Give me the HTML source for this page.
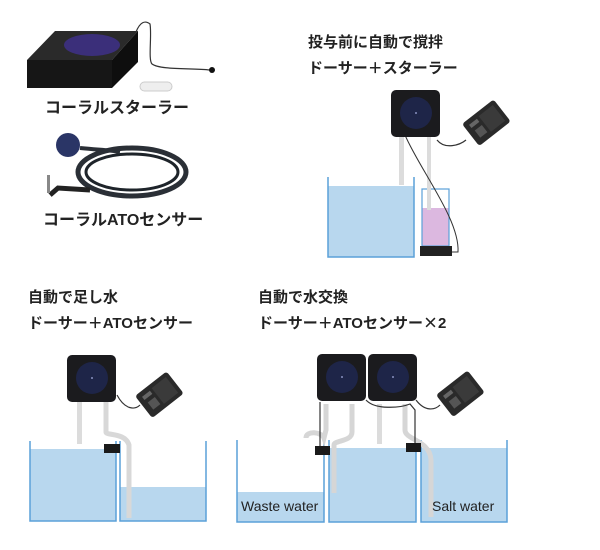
<!DOCTYPE html>
<html><head><meta charset="utf-8"><style>
html,body{margin:0;padding:0;background:#fff;width:600px;height:550px;overflow:hidden}
svg{display:block}
text{font-family:"Liberation Sans","Noto Sans CJK JP",sans-serif;font-weight:bold;fill:#222}
</style></head><body>
<svg width="600" height="550" viewBox="0 0 600 550">
<defs>
<g id="pump">
<rect x="0" y="0" width="49" height="47" rx="5" fill="#1b1b1e"/>
<circle cx="25" cy="23" r="16" fill="#1e2548"/>
<circle cx="25" cy="23" r="1" fill="#8890c0"/>
</g>
<g id="ctrl">
<rect x="0" y="0" width="40" height="28" rx="3" fill="#2a2a2a"/>
<rect x="5" y="5" width="10" height="4" fill="#666"/>
<rect x="18" y="4" width="18" height="20" fill="#3a3a3a"/>
<rect x="6" y="13" width="9" height="9" fill="#555"/>
</g>
</defs>

<!-- stirrer -->
<path d="M55 31 L138 31 L112 60 L27 60 Z" fill="#2a2a2a"/>
<rect x="27" y="60" width="85" height="28" fill="#161616"/>
<path d="M112 60 L138 31 L138 62 L112 88 Z" fill="#0e0e0e"/>
<ellipse cx="92" cy="45" rx="28" ry="11" fill="#3b2f7a"/>
<path d="M136 32 C140 22,145 20,150 24 C152 35,148 60,152 64 C160 70,190 68,210 70" stroke="#333" stroke-width="1.2" fill="none"/>
<circle cx="212" cy="70" r="3" fill="#111"/>
<rect x="140" y="82" width="32" height="9" rx="4.5" fill="#eee" stroke="#ccc"/>
<text x="45" y="113" font-size="16">コーラルスターラー</text>

<!-- sensor -->
<circle cx="68" cy="145" r="12" fill="#2a3566"/>
<ellipse cx="132" cy="172" rx="54" ry="24" fill="none" stroke="#2a2f36" stroke-width="5"/>
<ellipse cx="132" cy="172" rx="46" ry="18" fill="none" stroke="#1e242a" stroke-width="3"/>
<path d="M80 148 C100 150,110 150,120 152" stroke="#2a2f36" stroke-width="4" fill="none"/>
<path d="M50 195 L58 188 L90 190" stroke="#222" stroke-width="5" fill="none"/>
<rect x="47" y="175" width="3" height="18" fill="#888"/>
<text x="43" y="225" font-size="16">コーラルATOセンサー</text>

<!-- top right -->
<text x="308" y="47" font-size="15">投与前に自動で撹拌</text>
<text x="308" y="73" font-size="15">ドーサー＋スターラー</text>
<rect x="328" y="186" width="86" height="71" fill="#b8d7ee"/>
<path d="M328 177 V257 H414 V177" stroke="#5aa0d8" stroke-width="1.5" fill="none"/>
<rect x="422" y="208" width="27" height="38" fill="#dcb8e0"/>
<rect x="422" y="189" width="27" height="57" stroke="#5aa0d8" stroke-width="1.2" fill="none"/>
<rect x="420" y="246" width="32" height="10" fill="#222"/>
<rect x="399" y="135" width="5" height="50" fill="#dcdcdc"/>
<rect x="427" y="135" width="4" height="75" fill="#dcdcdc"/>
<path d="M405 135 C420 170,460 220,458 252 L452 252" stroke="#333" stroke-width="1" fill="none"/>
<path d="M437 140 C445 150,460 145,466 140" stroke="#333" stroke-width="1.2" fill="none"/>
<use href="#pump" x="391" y="90"/>
<use href="#ctrl" transform="translate(462,124) rotate(-38)"/>

<!-- bottom left -->
<text x="28" y="302" font-size="15">自動で足し水</text>
<text x="28" y="328" font-size="15">ドーサー＋ATOセンサー</text>
<rect x="30" y="449" width="86" height="72" fill="#b8d7ee"/>
<rect x="120" y="487" width="86" height="34" fill="#b8d7ee"/>
<path d="M30 441 V521 H116 V441 M120 441 V521 H206 V441" stroke="#5aa0d8" stroke-width="1.5" fill="none"/>
<rect x="77" y="402" width="5" height="42" fill="#dcdcdc"/>
<path d="M106 402 V432 C106 436,125 432,129 445 V518" stroke="#d8d8d8" stroke-width="5" fill="none"/>
<rect x="104" y="444" width="16" height="9" fill="#1a1a1a"/>
<path d="M117 395 C125 410,135 410,140 405" stroke="#333" stroke-width="1.2" fill="none"/>
<use href="#pump" x="67" y="355"/>
<use href="#ctrl" transform="translate(135,396) rotate(-38)"/>

<!-- bottom right -->
<text x="258" y="302" font-size="15">自動で水交換</text>
<text x="258" y="328" font-size="15">ドーサー＋ATOセンサー<tspan font-family="Noto Sans CJK JP">×</tspan>2</text>
<rect x="237" y="492" width="87" height="30" fill="#b8d7ee"/>
<rect x="329" y="448" width="87" height="74" fill="#b8d7ee"/>
<rect x="421" y="448" width="86" height="74" fill="#b8d7ee"/>
<path d="M237 440 V522 H324 V440 M329 440 V522 H416 V440 M421 440 V522 H507 V440" stroke="#5aa0d8" stroke-width="1.5" fill="none"/>
<path d="M306 438 C306 430,322 432,324 438 L326 430 V404" stroke="#d6d6d6" stroke-width="5" fill="none"/>
<path d="M334 493 V445 C334 440,352 442,352 432 V404" stroke="#d6d6d6" stroke-width="5" fill="none"/>
<rect x="377" y="404" width="5" height="40" fill="#dcdcdc"/>
<path d="M405 404 V430 C405 440,430 440,431 460 V517" stroke="#d6d6d6" stroke-width="5" fill="none"/>
<rect x="315" y="446" width="15" height="9" fill="#1a1a1a"/>
<rect x="406" y="443" width="15" height="9" fill="#1a1a1a"/>
<path d="M320 402 L320 446 M366 400 C375 410,400 408,410 404 L415 410 L415 443 M416 400 C425 412,435 410,440 405" stroke="#333" stroke-width="1.2" fill="none"/>
<use href="#pump" x="317" y="354"/>
<use href="#pump" x="368" y="354"/>
<use href="#ctrl" transform="translate(436,395) rotate(-38)"/>
<text x="241" y="511" font-size="14" style="font-weight:normal">Waste water</text>
<text x="432" y="511" font-size="14" style="font-weight:normal">Salt water</text>
</svg>
</body></html>
